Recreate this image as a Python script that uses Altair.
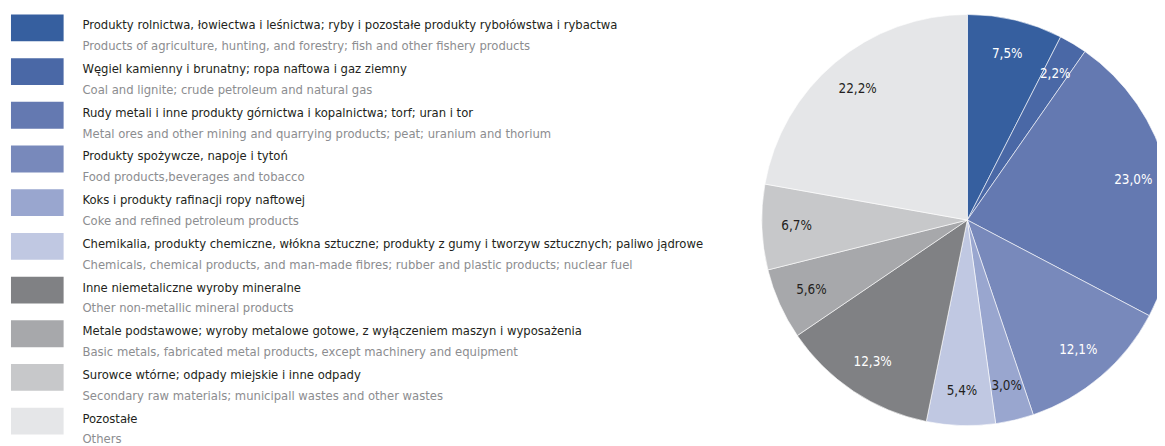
import altair as alt
import pandas as pd

pl_labels = [
    "Produkty rolnictwa, łowiectwa i leśnictwa; ryby i pozostałe produkty rybołówstwa i rybactwa",
    "Węgiel kamienny i brunatny; ropa naftowa i gaz ziemny",
    "Rudy metali i inne produkty górnictwa i kopalnictwa; torf; uran i tor",
    "Produkty spożywcze, napoje i tytoń",
    "Koks i produkty rafinacji ropy naftowej",
    "Chemikalia, produkty chemiczne, włókna sztuczne; produkty z gumy i tworzyw sztucznych; paliwo jądrowe",
    "Inne niemetaliczne wyroby mineralne",
    "Metale podstawowe; wyroby metalowe gotowe, z wyłączeniem maszyn i wyposażenia",
    "Surowce wtórne; odpady miejskie i inne odpady",
    "Pozostałe",
]
en_labels = [
    "Products of agriculture, hunting, and forestry; fish and other fishery products",
    "Coal and lignite; crude petroleum and natural gas",
    "Metal ores and other mining and quarrying products; peat; uranium and thorium",
    "Food products,beverages and tobacco",
    "Coke and refined petroleum products",
    "Chemicals, chemical products, and man-made fibres; rubber and plastic products; nuclear fuel",
    "Other non-metallic mineral products",
    "Basic metals, fabricated metal products, except machinery and equipment",
    "Secondary raw materials; municipall wastes and other wastes",
    "Others",
]
values = [7.5, 2.2, 23.0, 12.1, 3.0, 5.4, 12.3, 5.6, 6.7, 22.2]
value_labels = ["7,5%", "2,2%", "23,0%", "12,1%", "3,0%", "5,4%", "12,3%", "5,6%", "6,7%", "22,2%"]
colors = ["#365f9f", "#4a68a6", "#6479b1", "#7889bb", "#99a6cf",
          "#c0c8e2", "#808184", "#a7a8ab", "#c7c8ca", "#e5e6e8"]

df = pd.DataFrame({
    "idx": list(range(len(values))),
    "pl": pl_labels,
    "en": en_labels,
    "value": values,
    "vlabel": value_labels,
})

FONT = "DejaVu Sans Condensed"

color_scale = alt.Scale(domain=list(range(len(values))), range=colors)
y_scale = alt.Scale(type="band", range=[5, 428], paddingInner=17 / 44, paddingOuter=0)

base = alt.Chart(df)

swatches = base.mark_rect().encode(
    y=alt.Y("idx:O", scale=y_scale, axis=None),
    x=alt.value(3),
    x2=alt.value(56),
    color=alt.Color("idx:N", scale=color_scale, legend=None),
)

pl_text = base.mark_text(align="left", baseline="middle", dy=-2.5, font=FONT,
                         fontSize=13, color="#231f20").encode(
    y=alt.Y("idx:O", scale=y_scale, axis=None),
    x=alt.value(75),
    text="pl:N",
)

en_text = base.mark_text(align="left", baseline="middle", dy=18.5, font=FONT,
                         fontSize=13, color="#8c8d90").encode(
    y=alt.Y("idx:O", scale=y_scale, axis=None),
    x=alt.value(75),
    text="en:N",
)

pie = base.mark_arc(outerRadius=207, stroke="#ffffff", strokeWidth=0.6).encode(
    theta=alt.Theta("value:Q", stack=True),
    order=alt.Order("idx:Q"),
    color=alt.Color("idx:N", scale=color_scale, legend=None),
    x=alt.value(966),
    y=alt.value(212),
)

pie_labels = base.mark_text(radius=172, font=FONT, fontSize=13.5,
                            align="center", baseline="middle").encode(
    theta=alt.Theta("value:Q", stack=True),
    order=alt.Order("idx:Q"),
    text="vlabel:N",
    color=alt.condition("indexof([0,1,2,3,6], datum.idx) >= 0",
                        alt.value("#ffffff"), alt.value("#231f20")),
    x=alt.value(966),
    y=alt.value(212),
)

chart = alt.layer(swatches, pl_text, en_text, pie, pie_labels).properties(
    width=1157, height=438, padding=0, autosize=alt.AutoSizeParams(type="none")
).configure_view(stroke=None)

chart.save("out.html", embed_options={"renderer": "svg", "actions": False})
